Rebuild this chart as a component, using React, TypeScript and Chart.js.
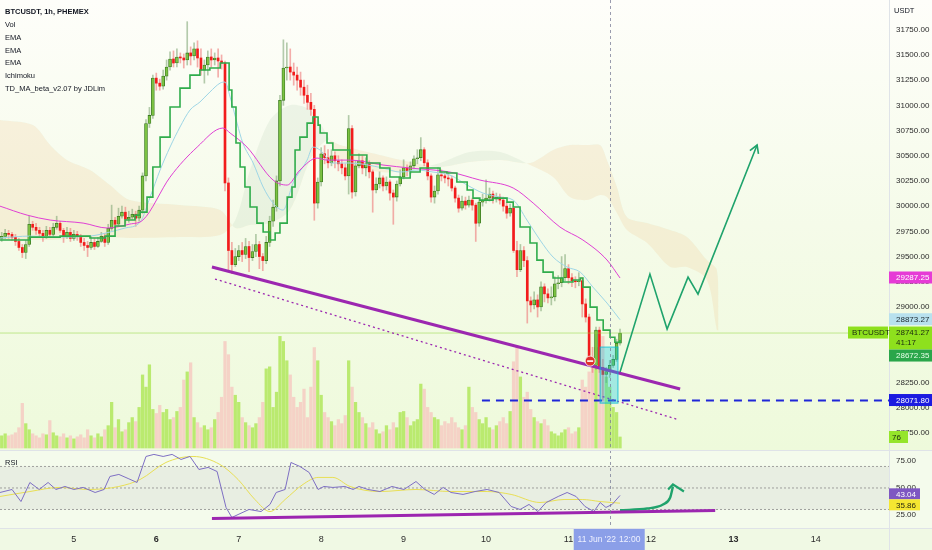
import { useEffect, useRef } from 'react';
import { Chart, registerables } from 'chart.js';

Chart.register(...registerables);

const FONT = '"Liberation Sans", Arial, sans-serif';

// x values are hours counted from 4 Jun 2022 00:00 (1h candles)
const FIRST_HOUR = 3;
const FIRST_OPEN = 29680;
const X_MIN = 2.5;
const X_MAX = 261.3;

const closes = [
  29700, 29730, 29720, 29690, 29650, 29590, 29540, 29620, 29820, 29790,
  29760, 29730, 29700, 29760, 29720, 29790, 29830, 29760, 29700, 29740,
  29680, 29720, 29700, 29640, 29610, 29590, 29640, 29600, 29650, 29700,
  29640, 29780, 29860, 29820, 29900, 29940, 29870, 29890, 29920, 29880,
  29960, 30300, 30820, 30900, 31270, 31220, 31190, 31290, 31380, 31460,
  31420, 31480, 31470, 31450, 31520, 31490, 31560, 31470, 31350, 31400,
  31480, 31450, 31470, 31440, 31420, 30230, 29560, 29420, 29500, 29560,
  29520, 29600, 29490, 29550, 29620, 29500, 29460, 29640, 29850, 29990,
  30250, 31050, 31370, 31380, 31330, 31300, 31250, 31180, 31100, 31030,
  30960, 30030, 30240, 30520, 30480, 30430, 30500, 30450, 30420, 30380,
  30300, 30770, 30140, 30400, 30450, 30380, 30420, 30340, 30160, 30220,
  30280, 30200, 30240, 30130, 30090, 30220, 30290, 30380, 30350, 30400,
  30470, 30480, 30560, 30430, 30300, 30090, 30150, 30310, 30300, 30280,
  30270, 30180, 30080, 29980, 30050, 30010, 30060, 30010, 29830, 30040,
  30060, 30080, 30120, 30070, 30090, 30060, 30000, 29930, 29980, 29560,
  29370, 29560, 29460, 29060, 29020, 29070, 29000, 29200, 29130, 29090,
  29100, 29230, 29240, 29290, 29380, 29290, 29260, 29250, 29260, 29030,
  28900, 28470, 28420, 28770, 28400, 28330, 28360, 28420, 28480, 28640, 28741.27,
];

const highs = [
  29740, 29770, 29760, 29740, 29720, 29680, 29620, 29660, 29900, 29850,
  29830, 29790, 29760, 29800, 29790, 29830, 29900, 29850, 29780, 29790,
  29780, 29760, 29750, 29720, 29680, 29650, 29700, 29680, 29690, 29740,
  29730, 29820, 30010, 29890, 29980, 30000, 29990, 29950, 29970, 29950,
  30000, 30330, 30860, 30980, 31300, 31320, 31260, 31350, 31450, 31530,
  31540, 31560, 31520, 31510, 31830, 31580, 31620, 31640, 31560, 31450,
  31540, 31560, 31520, 31560, 31500, 31440, 30280, 29640, 29580, 29610,
  29640, 29680, 29650, 29620, 29720, 29650, 29530, 29700, 29900, 30060,
  30300, 31100, 31650, 31620, 31560, 31420, 31380, 31330, 31250, 31200,
  31120, 31000, 30280, 30580, 30600, 30560, 30560, 30540, 30500, 30460,
  30420, 30900, 30800, 30450, 30520, 30500, 30480, 30450, 30360, 30280,
  30340, 30300, 30290, 30260, 30160, 30250, 30360, 30460, 30410, 30440,
  30500, 30560, 30680, 30580, 30460, 30320, 30200, 30380, 30360, 30340,
  30340, 30300, 30200, 30110, 30100, 30090, 30100, 30080, 30030, 30070,
  30120, 30260, 30180, 30150, 30130, 30120, 30090, 30040, 30020, 30000,
  29650, 29620, 29600, 29500, 29100, 29150, 29120, 29250, 29230, 29180,
  29200, 29300, 29310, 29500, 29520, 29420, 29330, 29300, 29340, 29290,
  29080, 28930, 28600, 28800, 28800, 28480, 28400, 28470, 28520, 28680, 28780,
];

const lows = [
  29650, 29680, 29680, 29660, 29610, 29560, 29490, 29480, 29600, 29760,
  29720, 29690, 29650, 29680, 29690, 29700, 29770, 29740, 29640, 29680,
  29650, 29660, 29660, 29600, 29560, 29500, 29570, 29570, 29590, 29640,
  29600, 29620, 29760, 29790, 29800, 29880, 29830, 29840, 29870, 29800,
  29850, 29930, 30250, 30780, 30870, 31150, 31150, 31160, 31250, 31350,
  31380, 31380, 31420, 31370, 31400, 31400, 31450, 31380, 31300, 31220,
  31300, 31380, 31400, 31280, 31360, 30150, 29350, 29330, 29400, 29460,
  29450, 29480, 29350, 29460, 29500, 29380, 29360, 29430, 29600, 29800,
  29950, 30200, 31000, 31250, 31250, 31200, 31150, 31100, 31020, 30960,
  30900, 29860, 29980, 30200, 30420, 30380, 30400, 30380, 30350, 30320,
  30260, 30120, 30080, 30100, 30380, 30320, 30300, 30280, 29940, 30130,
  30180, 30150, 30160, 30060, 29820, 30050, 30200, 30270, 30300, 30320,
  30370, 30420, 30450, 30400, 30260, 30040, 30030, 30120, 30250, 30230,
  30200, 30150, 30040, 29940, 29960, 29970, 29990, 29960, 29650, 29800,
  30000, 30030, 30050, 30030, 30040, 30020, 29950, 29880, 29900, 29540,
  29300, 29350, 29400, 28840, 28950, 28980, 28900, 28960, 29050, 29040,
  29020, 29060, 29180, 29200, 29260, 29230, 29200, 29190, 29210, 28900,
  28850, 28430, 28350, 28380, 28350, 28071.8, 28250, 28300, 28400, 28460, 28620,
];

const volumes = [
  84, 98, 84, 91, 105, 140, 308, 168, 126, 98,
  84, 70, 98, 91, 189, 105, 84, 77, 98, 70,
  84, 63, 77, 91, 70, 126, 84, 70, 98, 77,
  126, 154, 315, 140, 196, 112, 126, 175, 210, 182,
  280, 504, 420, 574, 266, 238, 294, 245, 266, 196,
  210, 252, 280, 469, 525, 588, 210, 175, 140, 154,
  126, 140, 196, 245, 350, 735, 644, 420, 364, 315,
  210, 175, 154, 140, 168, 210, 315, 546, 560, 280,
  385, 770, 735, 602, 504, 350, 280, 315, 406, 210,
  420, 693, 602, 364, 245, 210, 182, 154, 196, 168,
  224, 602, 420, 315, 245, 210, 168, 140, 175, 126,
  98, 112, 154, 126, 175, 140, 245, 252, 210, 154,
  182, 196, 441, 406, 280, 245, 210, 196, 154, 182,
  168, 210, 175, 140, 126, 154, 420, 280, 245, 196,
  168, 210, 140, 126, 154, 182, 210, 168, 252, 595,
  700, 490, 350, 385, 266, 210, 182, 168, 196, 154,
  112, 98, 84, 105, 126, 140, 98, 112, 140, 469,
  420, 525, 630, 693, 595, 770, 490, 420, 280, 245, 76,
];

// EMA lines [hour, price]
const emaSlow: [number, number][] = [
  [2.5, 30000], [10.4, 29911], [17.1, 29862], [26.7, 29832], [33.7, 29783], [40.3, 29822],
  [44.1, 29862], [52, 30288], [59.9, 30586], [67.4, 30775], [69.5, 30725], [74.4, 30586],
  [82, 30259], [86.1, 30209], [89.8, 30358], [94.8, 30477], [97.7, 30457], [104.4, 30457],
  [114, 30408], [121.9, 30378], [133.5, 30338], [142.2, 30259], [151.9, 30180], [157.7, 30031],
  [165.5, 29793], [172.2, 29664], [179.2, 29466], [183, 29287.25],
];

const emaMid: [number, number][] = [
  [2.5, 29684], [11.2, 29703], [20, 29693], [28.7, 29703], [34.5, 29743], [38.9, 29783],
  [43.3, 29842], [46.2, 30090], [49.1, 30358], [52, 30586], [54.9, 30785], [57.8, 30953],
  [60.7, 31033], [63.6, 31132], [66.6, 31221], [68, 31231], [69.5, 31082], [71.5, 30824],
  [73.2, 30626], [76.2, 30428], [79.1, 30190], [82, 30031], [84.9, 29961], [87.8, 30229],
  [91.9, 30457], [93.6, 30586], [95.7, 30556], [99.4, 30428], [104.4, 30428], [114, 30378],
  [119, 30338], [123.9, 30358], [128.6, 30338], [133.5, 30308], [138.5, 30209], [143.1, 30130],
  [148.1, 30090], [151.9, 30060], [155.9, 29862], [159.7, 29664], [163.5, 29495], [167.6, 29396],
  [171.4, 29346], [175.1, 29197], [179.2, 29039], [183, 28873.27],
];

const tdStep: [number, number][] = [
  [2.5, 29664], [11.2, 29693], [20, 29703], [28.7, 29684], [33.1, 29703], [36, 29803],
  [38.9, 29862], [41.8, 29911], [43.3, 29941], [45.3, 30090], [47, 30388], [49.1, 30685],
  [52, 30983], [54.9, 31171], [57.8, 31300], [60.7, 31350], [63.6, 31370], [66.6, 31420],
  [68.3, 31420], [69.2, 31152], [70, 30983], [71.2, 30626], [72.4, 30388], [73.8, 30190],
  [75.3, 29991], [77.3, 29832], [79.1, 29743], [81.1, 29664], [82.6, 29733], [84, 29832],
  [86.1, 30090], [87.5, 30190], [88.4, 30557], [89.8, 30685], [91.9, 30824], [93.6, 30884],
  [95.1, 30804], [95.7, 30725], [97.7, 30626], [99.4, 30557], [104.4, 30507], [109.3, 30428],
  [113.1, 30378], [116, 30289], [119, 30279], [121.9, 30339], [124.8, 30378], [130.6, 30339],
  [132.6, 30329], [135.5, 30239], [138.5, 30160], [140.2, 30080], [142.2, 30060], [146, 30080],
  [150.1, 30040], [151.9, 29991], [153.9, 29793], [156.8, 29634], [158.8, 29465], [160.6, 29346],
  [163.5, 29287], [166.4, 29247], [169.3, 29267], [171.4, 29287], [172.2, 29197], [174.3, 28998],
  [176.3, 28870], [178.1, 28770], [180.1, 28700], [181.5, 28650], [183, 28672.35],
];

// Ichimoku cloud [hour, senkou A, senkou B]
const cloud: [number, number, number][] = [
  [2.5, 29664, 30854], [12.1, 29664, 30804], [17.1, 29664, 30606], [22, 29674, 30457],
  [28.7, 29684, 30358], [34.5, 29693, 30209], [40.3, 29684, 30060], [54.9, 29693, 30011],
  [66.6, 29713, 29961], [71, 29862, 29783], [75.3, 30358, 29812], [81.1, 30854, 29832],
  [86.9, 31002, 29961], [92.8, 30953, 30457], [97.7, 30705, 30656], [101.5, 30457, 30606],
  [113.1, 30338, 30507], [121.9, 30358, 30437], [130.6, 30428, 30388], [139.3, 30537, 30437],
  [148.1, 30537, 30457], [156.8, 30408, 30428], [163.5, 30289, 30557], [168.4, 30090, 30606],
  [173.4, 30060, 30606], [177.2, 30110, 30606], [179.2, 30090, 30457], [182.1, 29931, 30189],
  [185, 29763, 29892], [190.9, 29634, 29832], [197.6, 29396, 29763], [202.5, 29396, 29694],
  [208.3, 29267, 29465], [211.2, 28770, 29366], [211.7, 28770, 28770],
];

// RSI pane
const rsi: [number, number][] = [
  [2.5, 45.8], [6, 48.6], [8.6, 37.4], [11.2, 55.1], [13.9, 48.6], [16.5, 55.1], [18.8, 48.6],
  [21.4, 51.4], [24, 48.6], [26.7, 50.5], [30.2, 45.8], [32.8, 48.6], [34.5, 60.7], [37.1, 62.6],
  [39.8, 58.8], [42.4, 55.1], [45, 79.3], [47.3, 81.2], [50, 79.3], [52.6, 81.2], [55.2, 76.5],
  [57.8, 79.3], [60.4, 67.2], [63.1, 69.1], [65.7, 65.3], [68.3, 31.9], [70, 22.6], [71.8, 25.3],
  [75, 30], [78.5, 28.1], [81.1, 34.7], [82.9, 45.8], [85.5, 48.6], [87.2, 73.7], [89.8, 70],
  [92.5, 64.4], [95.1, 48.6], [96.8, 51.4], [99.4, 50.5], [102.9, 51.4], [105.3, 48.6], [107, 51.4],
  [109.6, 48.6], [113.1, 46.7], [116.6, 51.4], [120.1, 48.6], [123.6, 56], [126.2, 48.6], [128.9, 44],
  [131.5, 50.5], [133.8, 45.8], [137.3, 44], [140.8, 46.7], [144.3, 48.6], [147.8, 45.8], [151.3, 32.8],
  [153.9, 30], [156.5, 34.7], [159.1, 28.1], [161.5, 36.5], [165, 42.1], [167.6, 45.8], [170.2, 42.1],
  [172.8, 32.8], [175.4, 28.1], [177.2, 36.5], [178.9, 31.9], [180.7, 34.7], [183, 43.04],
];

const rsiMa: [number, number][] = [
  [2.5, 42.1], [11.2, 46.7], [19.7, 50.5], [28.4, 48.6], [37.1, 51.4], [43.3, 57.9], [50.8, 73.7],
  [58.7, 79.3], [66.5, 71.9], [71.8, 57.9], [76.7, 39.3], [81.1, 28.1], [85.5, 39.3], [90.7, 53.3],
  [95.1, 59.8], [99.4, 59.8], [104.4, 51.4], [113.1, 46.7], [123.6, 48.6], [133.8, 46.7], [144.3, 46.7],
  [151.3, 44], [159.7, 36.5], [166.7, 39.3], [172, 39.3], [177.2, 37.4], [183, 35.86],
];

// drawings
const trendMain: [number, number][] = [[64.2, 29396], [200.5, 28186]];
const trendDotted: [number, number][] = [[65.1, 29277], [199.9, 27883]];
const supportLevel = 28071.8;
const supportFrom = 142.8;
const projection: [number, number][] = [
  [183, 28354], [191.7, 29326], [196.7, 28781], [202.8, 29296], [205.7, 29127], [222.9, 30606],
];
const projectionHead: [number, number][] = [[220.8, 30551], [222.9, 30606], [223.3, 30518]];
const rsiTrend: [number, number][] = [[64.2, 21.6], [210.7, 29.1]];
const rsiArrow: [number, number][] = [[183, 29.3], [190.9, 30.9], [195.5, 34.7], [197.6, 41.2], [198.4, 51.4]];
const rsiArrowHead: [number, number][] = [[197, 48.6], [198.4, 53.3], [201.6, 46.7]];
const boxRange = { x0: 177.2, x1: 182.4, y0: 28602, y1: 28046 };
const sellSignal = { x: 174.3, y: 28463 };
const crosshairHour = 180;

// axes
const dayTicks = [24, 48, 72, 96, 120, 144, 168, 192, 216, 240];
const boldDayTicks = [48, 216];
const priceTicks = [27750, 28000, 28250, 28500, 28750, 29000, 29250, 29500, 29750, 30000, 30250, 30500, 30750, 31000, 31250, 31500, 31750];
const rsiTicks = [25, 50, 75];
const rsiLevels = [70, 50, 30];

const legendTitle = 'BTCUSDT, 1h, PHEMEX';
const legendItems = ['Vol', 'EMA', 'EMA', 'EMA', 'Ichimoku', 'TD_MA_beta_v2.07 by JDLim'];
const countdown = '41:17';
const crosshairLabel = ["11 Jun '22", '12:00'];

const pt = (a: [number, number][]) => a.map(([x, y]) => ({ x, y }));

function tag(ctx: CanvasRenderingContext2D, x: number, top: number, w: number, h: number, bg: string, fg: string, lines: string[], tx: number) {
  ctx.fillStyle = bg;
  ctx.fillRect(x, top, w, h);
  ctx.fillStyle = fg;
  ctx.textAlign = 'left';
  ctx.textBaseline = 'middle';
  lines.forEach((t, i) => ctx.fillText(t, tx, top + 6.5 + i * 10));
}

export default function App() {
  const ref = useRef<HTMLCanvasElement | null>(null);

  useEffect(() => {
    document.body.style.margin = '0';
    if (!ref.current) return;
    Chart.defaults.font.family = FONT;

    const candles = closes.map((c, i) => ({
      x: FIRST_HOUR + i,
      o: i === 0 ? FIRST_OPEN : closes[i - 1],
      c,
      h: highs[i],
      l: lows[i],
      v: volumes[i],
    }));
    const up = candles.filter((k) => k.c >= k.o);
    const down = candles.filter((k) => k.c < k.o);
    const lastClose = closes[closes.length - 1];
    const lastVol = volumes[volumes.length - 1];

    const line = (data: [number, number][], color: string, width: number, extra: any = {}) => ({
      type: 'line',
      data: pt(data),
      borderColor: color,
      borderWidth: width,
      pointRadius: 0,
      fill: false,
      yAxisID: 'y',
      order: 3,
      ...extra,
    });

    const bg = {
      id: 'bg',
      beforeDraw(chart: any) {
        const { ctx, width, height, chartArea } = chart;
        const y = chart.scales.y;
        const r = chart.scales.rsi;
        ctx.save();
        const g = ctx.createLinearGradient(0, 0, 0, y.bottom);
        g.addColorStop(0, '#fefefa');
        g.addColorStop(0.5, '#f5fbe9');
        g.addColorStop(1, '#eefadb');
        ctx.fillStyle = g;
        ctx.fillRect(0, 0, width, y.bottom);
        ctx.fillStyle = '#f4fbec';
        ctx.fillRect(0, r.top, width, r.bottom - r.top);
        const y70 = r.getPixelForValue(70);
        const y30 = r.getPixelForValue(30);
        ctx.fillStyle = 'rgba(190,190,190,0.22)';
        ctx.fillRect(0, y70, chartArea.right, y30 - y70);
        ctx.fillStyle = '#f0f9e4';
        ctx.fillRect(0, r.bottom, width, height - r.bottom);
        ctx.restore();
      },
      afterDatasetsDraw(chart: any) {
        const { ctx, chartArea } = chart;
        const x = chart.scales.x;
        const y = chart.scales.y;
        const r = chart.scales.rsi;
        ctx.save();
        // highlight box
        const bx0 = x.getPixelForValue(boxRange.x0);
        const bx1 = x.getPixelForValue(boxRange.x1);
        const by0 = y.getPixelForValue(boxRange.y0);
        const by1 = y.getPixelForValue(boxRange.y1);
        ctx.fillStyle = 'rgba(0,200,230,0.32)';
        ctx.fillRect(bx0, by0, bx1 - bx0, by1 - by0);
        ctx.strokeStyle = 'rgba(0,188,212,0.8)';
        ctx.lineWidth = 1;
        ctx.strokeRect(bx0, by0, bx1 - bx0, by1 - by0);
        // sell signal
        const sx = x.getPixelForValue(sellSignal.x);
        const sy = y.getPixelForValue(sellSignal.y);
        ctx.beginPath();
        ctx.arc(sx, sy, 5, 0, Math.PI * 2);
        ctx.fillStyle = '#e0302c';
        ctx.fill();
        ctx.strokeStyle = '#ffffff';
        ctx.lineWidth = 0.8;
        ctx.stroke();
        ctx.fillStyle = '#ffffff';
        ctx.fillRect(sx - 3, sy - 0.8, 6, 1.6);
        // crosshair
        const cx = Math.round(x.getPixelForValue(crosshairHour)) + 0.5;
        ctx.setLineDash([3, 3]);
        ctx.strokeStyle = 'rgba(120,123,150,0.75)';
        ctx.lineWidth = 1;
        ctx.beginPath();
        ctx.moveTo(cx, chartArea.top);
        ctx.lineTo(cx, r.bottom);
        ctx.stroke();
        ctx.restore();
      },
      afterDraw(chart: any) {
        const { ctx, width, height, chartArea } = chart;
        const x = chart.scales.x;
        const y = chart.scales.y;
        const r = chart.scales.rsi;
        const v = chart.scales.vol;
        ctx.save();
        // separators
        ctx.strokeStyle = '#dfe3e8';
        ctx.lineWidth = 1;
        ctx.beginPath();
        ctx.moveTo(0, y.bottom + 0.5);
        ctx.lineTo(width, y.bottom + 0.5);
        ctx.moveTo(0, r.bottom + 0.5);
        ctx.lineTo(width, r.bottom + 0.5);
        ctx.moveTo(chartArea.right + 0.5, 0);
        ctx.lineTo(chartArea.right + 0.5, height);
        ctx.stroke();

        ctx.font = `8px ${FONT}`;
        const ax = chartArea.right;
        const aw = width - ax;
        const tx = ax + 7;
        // price tags with collision push-down
        const tags = [
          { v: emaSlow[emaSlow.length - 1][1], bg: '#e63bd6', fg: '#ffffff', lines: [emaSlow[emaSlow.length - 1][1].toFixed(2)] },
          { v: emaMid[emaMid.length - 1][1], bg: '#b8e1ee', fg: '#1d2a2f', lines: [emaMid[emaMid.length - 1][1].toFixed(2)] },
          { v: lastClose, bg: '#8ee01d', fg: '#1b2a10', lines: [lastClose.toFixed(2), countdown] },
          { v: tdStep[tdStep.length - 1][1], bg: '#2aa64a', fg: '#e9ffe9', lines: [tdStep[tdStep.length - 1][1].toFixed(2)] },
          { v: supportLevel, bg: '#1b1be0', fg: '#ffffff', lines: [supportLevel.toFixed(2)] },
        ].map((t) => ({ ...t, py: y.getPixelForValue(t.v) }));
        tags.sort((a, b) => a.py - b.py);
        let prevBottom = -Infinity;
        for (const t of tags) {
          const h = t.lines.length > 1 ? 23 : 12;
          let top = t.py - 6.5;
          if (top < prevBottom) top = prevBottom;
          tag(ctx, ax, top, aw, h, t.bg, t.fg, t.lines, tx);
          prevBottom = top + h;
        }
        // symbol tag near price line
        const ly = y.getPixelForValue(lastClose);
        tag(ctx, ax - 41, ly - 6.5, 40, 12, '#8ee01d', '#1b2a10', ['BTCUSDT'], ax - 37);
        // volume tag
        const vy = v.getPixelForValue(lastVol);
        tag(ctx, ax, vy - 6, 19, 12, '#95e52a', '#1b2a10', [String(lastVol)], ax + 3);
        // RSI tags, spread around their midpoint when overlapping
        const r1 = r.getPixelForValue(rsi[rsi.length - 1][1]);
        const r2 = r.getPixelForValue(rsiMa[rsiMa.length - 1][1]);
        let t1 = r1 - 5.5;
        let t2 = r2 - 5.5;
        if (t2 - t1 < 11) {
          const mid = (r1 + r2) / 2;
          t1 = mid - 11;
          t2 = mid;
        }
        tag(ctx, ax, t1, 31, 11, '#7e57c2', '#ffffff', [rsi[rsi.length - 1][1].toFixed(2)], tx);
        tag(ctx, ax, t2, 31, 11, '#f5e631', '#2a2a10', [rsiMa[rsiMa.length - 1][1].toFixed(2)], tx);

        // header legend
        ctx.textAlign = 'left';
        ctx.textBaseline = 'middle';
        ctx.fillStyle = '#131722';
        ctx.font = `bold 7.5px ${FONT}`;
        ctx.fillText(legendTitle, 5, 12);
        ctx.font = `7.5px ${FONT}`;
        legendItems.forEach((s, i) => ctx.fillText(s, 5, 25 + i * 12.8));
        ctx.fillText('USDT', ax + 5, 11);
        ctx.fillText('RSI', 5, r.top + 13);

        // crosshair time label
        const cx = x.getPixelForValue(crosshairHour);
        ctx.fillStyle = '#8b9fe8';
        ctx.fillRect(cx - 36, r.bottom + 1, 71, height - r.bottom - 1);
        ctx.fillStyle = '#eef1ff';
        ctx.font = `8.5px ${FONT}`;
        ctx.textAlign = 'center';
        ctx.fillText(crosshairLabel[0], cx - 13, r.bottom + 12);
        ctx.fillText(crosshairLabel[1], cx + 20, r.bottom + 12);
        ctx.restore();
      },
    };

    const chart = new Chart(ref.current, {
      type: 'bar',
      data: {
        datasets: [
          {
            type: 'line',
            label: 'Senkou A',
            data: cloud.map(([x, a]) => ({ x, y: a })),
            borderWidth: 0,
            borderColor: 'rgba(0,0,0,0)',
            pointRadius: 0,
            tension: 0.3,
            yAxisID: 'y',
            fill: { target: '+1', above: 'rgba(165,200,170,0.16)', below: 'rgba(242,195,135,0.2)' },
            order: 40,
          },
          {
            type: 'line',
            label: 'Senkou B',
            data: cloud.map(([x, , b]) => ({ x, y: b })),
            borderWidth: 0,
            borderColor: 'rgba(0,0,0,0)',
            pointRadius: 0,
            tension: 0.3,
            yAxisID: 'y',
            fill: false,
            order: 41,
          },
          {
            type: 'bar',
            label: 'Vol up',
            data: up.map((k) => ({ x: k.x, y: k.v })),
            yAxisID: 'vol',
            backgroundColor: 'rgba(176,230,92,0.85)',
            barThickness: 2.6,
            grouped: false,
            order: 30,
          },
          {
            type: 'bar',
            label: 'Vol down',
            data: down.map((k) => ({ x: k.x, y: k.v })),
            yAxisID: 'vol',
            backgroundColor: 'rgba(245,205,195,0.9)',
            barThickness: 2.6,
            grouped: false,
            order: 31,
          },
          {
            type: 'bar',
            label: 'Wick up',
            data: up.map((k) => ({ x: k.x, y: [k.l, k.h] })),
            yAxisID: 'y',
            backgroundColor: 'rgba(120,160,110,0.55)',
            barThickness: 1,
            grouped: false,
            order: 12,
          },
          {
            type: 'bar',
            label: 'Wick down',
            data: down.map((k) => ({ x: k.x, y: [k.l, k.h] })),
            yAxisID: 'y',
            backgroundColor: 'rgba(238,120,120,0.6)',
            barThickness: 1,
            grouped: false,
            order: 13,
          },
          {
            type: 'bar',
            label: 'Body up',
            data: up.map((k) => ({ x: k.x, y: [k.o, k.c] })),
            yAxisID: 'y',
            backgroundColor: '#7cc242',
            borderColor: '#3b7a22',
            borderWidth: 0.8,
            borderSkipped: false,
            barThickness: 3,
            minBarLength: 1,
            grouped: false,
            order: 10,
          },
          {
            type: 'bar',
            label: 'Body down',
            data: down.map((k) => ({ x: k.x, y: [k.o, k.c] })),
            yAxisID: 'y',
            backgroundColor: '#f21c1c',
            barThickness: 2,
            minBarLength: 1,
            grouped: false,
            order: 11,
          },
          line(emaSlow, '#e040d4', 1, { cubicInterpolationMode: 'monotone' }),
          line(emaMid, '#9ed6e6', 1, { cubicInterpolationMode: 'monotone' }),
          line(tdStep, '#2fac4b', 1.6, { stepped: true, order: 2 }),
          line([[X_MIN, lastClose], [X_MAX, lastClose]], 'rgba(150,215,70,0.55)', 1, { order: 5 }),
          line(trendMain, '#9c27b0', 3, { order: 1 }),
          line(trendDotted, '#9c27b0', 1.3, { borderDash: [2, 3], order: 1 }),
          line([[supportFrom, supportLevel], [X_MAX, supportLevel]], '#1f26d8', 2, { borderDash: [8, 6], order: 1 }),
          line(projection, '#1fa36c', 1.6, { order: 1 }),
          line(projectionHead, '#1fa36c', 1.6, { order: 1 }),
          ...rsiLevels.map((lv) => line([[X_MIN, lv], [X_MAX, lv]], 'rgba(140,140,140,0.8)', 1, { borderDash: [2, 2], yAxisID: 'rsi', order: 6 })),
          line(rsiMa, '#e8df55', 1, { yAxisID: 'rsi', cubicInterpolationMode: 'monotone', order: 4 }),
          line(rsi, '#7e6fc4', 1, { yAxisID: 'rsi', order: 3 }),
          line(rsiTrend, '#9c27b0', 3, { yAxisID: 'rsi', order: 1 }),
          line(rsiArrow, '#1fa36c', 2.4, { yAxisID: 'rsi', cubicInterpolationMode: 'monotone', order: 1 }),
          line(rsiArrowHead, '#1fa36c', 2.2, { yAxisID: 'rsi', order: 1 }),
        ] as any,
      },
      options: {
        animation: false,
        responsive: true,
        maintainAspectRatio: false,
        events: [],
        layout: { padding: 0 },
        plugins: {
          legend: { display: false },
          tooltip: { enabled: false },
          filler: { drawTime: 'beforeDatasetsDraw' } as any,
        },
        scales: {
          x: {
            type: 'linear',
            min: X_MIN,
            max: X_MAX,
            offset: false,
            grid: { display: false, drawTicks: false },
            border: { display: false },
            afterBuildTicks: (s: any) => {
              s.ticks = dayTicks.map((value) => ({ value }));
            },
            afterFit: (s: any) => {
              s.height = 22;
              s.paddingLeft = 0;
              s.paddingRight = 0;
            },
            ticks: {
              autoSkip: false,
              maxRotation: 0,
              padding: 6,
              color: '#2b2b2b',
              font: (ctx: any) => ({
                family: FONT,
                size: 9,
                weight: ctx.tick && boldDayTicks.includes(ctx.tick.value) ? 'bold' : 'normal',
              }),
              callback: (value: any) => String(4 + Number(value) / 24),
            },
          },
          y: {
            type: 'linear',
            position: 'right',
            stack: 'panes',
            stackWeight: 450,
            min: 27581,
            max: 32045,
            grid: { display: false, drawTicks: false },
            border: { display: false },
            afterBuildTicks: (s: any) => {
              s.ticks = priceTicks.map((value) => ({ value }));
            },
            afterFit: (s: any) => {
              s.width = 43;
              s.paddingTop = 0;
              s.paddingBottom = 0;
            },
            ticks: {
              padding: 7,
              color: '#2b2b2b',
              font: { family: FONT, size: 8 },
              callback: (value: any) => Number(value).toFixed(2),
            },
          },
          rsi: {
            type: 'linear',
            axis: 'y',
            position: 'right',
            stack: 'panes',
            stackWeight: 78,
            min: 12.8,
            max: 85.3,
            grid: { display: false, drawTicks: false },
            border: { display: false },
            afterBuildTicks: (s: any) => {
              s.ticks = rsiTicks.map((value) => ({ value }));
            },
            afterFit: (s: any) => {
              s.width = 43;
              s.paddingTop = 0;
              s.paddingBottom = 0;
            },
            ticks: {
              padding: 7,
              color: '#2b2b2b',
              font: { family: FONT, size: 8 },
              callback: (value: any) => Number(value).toFixed(2),
            },
          },
          vol: {
            type: 'linear',
            axis: 'y',
            position: 'left',
            display: false,
            min: -552,
            max: 3091,
          },
        } as any,
      },
      plugins: [bg as any],
    });

    return () => chart.destroy();
  }, []);

  return (
    <div style={{ position: 'relative', width: 932, height: 550 }}>
      <canvas ref={ref} />
    </div>
  );
}
